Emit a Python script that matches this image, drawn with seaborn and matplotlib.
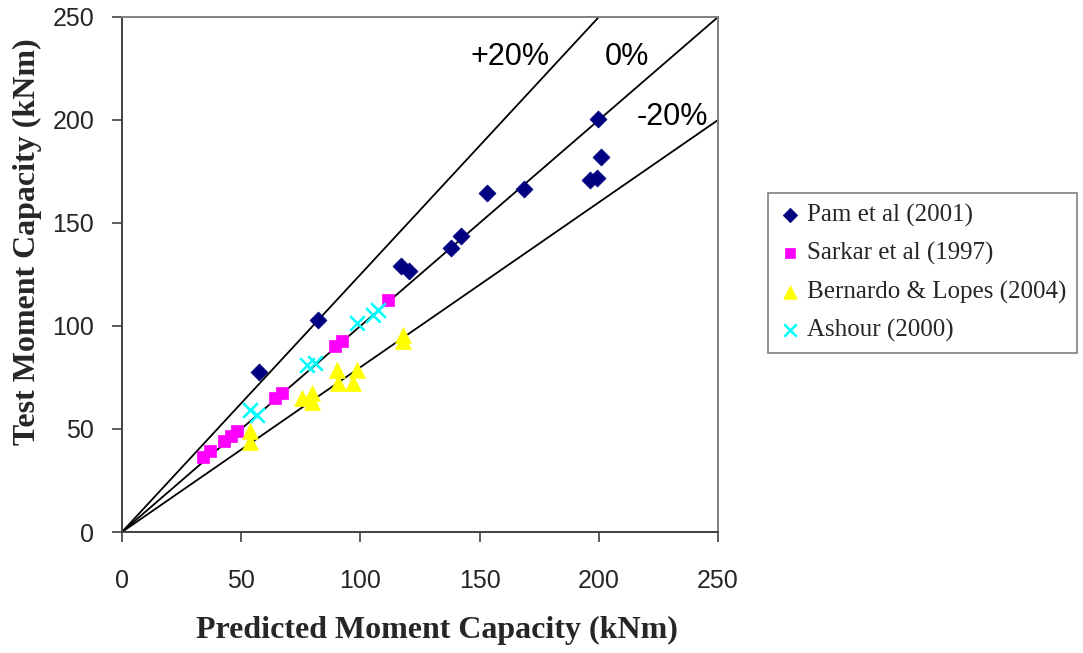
import matplotlib
matplotlib.use("Agg")
import matplotlib.pyplot as plt
import seaborn as sns
import numpy as np
import pandas as pd

# ---- data ----
pam_x = [57.5, 82.2, 117.0, 120.3, 137.9, 142.0, 153.0, 168.7, 196.3, 199.1, 200.8, 199.7]
pam_y = [77.7, 103.0, 129.0, 126.7, 138.0, 143.5, 164.6, 166.3, 170.9, 171.9, 181.9, 200.4]

sarkar_x = [34.0, 36.9, 42.8, 45.7, 48.2, 64.2, 67.1, 89.3, 92.3, 111.6]
sarkar_y = [36.4, 39.3, 44.2, 46.6, 49.0, 65.0, 67.5, 90.3, 92.7, 112.6]

bernardo_x = [53.7, 53.7, 75.4, 79.6, 79.6, 90.0, 90.8, 98.5, 97.0, 118.0, 118.0]
bernardo_y = [48.9, 43.8, 64.9, 67.3, 63.3, 78.6, 72.2, 78.6, 72.2, 95.6, 92.7]

ashour_x = [53.5, 56.5, 77.5, 81.0, 98.4, 105.4, 107.5]
ashour_y = [59.3, 57.0, 81.0, 81.9, 101.3, 105.3, 107.8]

series_names = ["Pam et al (2001)", "Sarkar et al (1997)",
                "Bernardo & Lopes (2004)", "Ashour (2000)"]

ref_factors = [1.25, 1.0, 0.8]
ref_labels = ["+20%", "0%", "-20%"]
ref_label_pos = [(162.8, 230.6), (212.0, 230.6), (230.7, 201.5)]

ticks = [0, 50, 100, 150, 200, 250]

# ---- figure ----
sns.set_theme(style="white")
plt.rcParams['font.family'] = ['Liberation Sans', 'DejaVu Sans']

fig = plt.figure(figsize=(10.83, 6.53), dpi=100)
ax = fig.add_axes([122/1083, 1-532/653, (718-122)/1083, (532-17)/653])

# reference lines
line_x = np.array([0.0, 250.0])
for f in ref_factors:
    sns.lineplot(x=line_x, y=line_x * f, ax=ax, color="black", linewidth=1.3,
                 legend=False, zorder=2)

styles = [
    dict(marker="D", color="#000080", s=75, edgecolor="#000080", linewidth=0.5),
    dict(marker="s", color="#FF00FF", s=80, edgecolor="#FF00FF", linewidth=0.5),
    dict(marker="^", color="#FFFF00", s=130, edgecolor="#FFFF00", linewidth=0.5),
    dict(marker="x", color="#00FFFF", s=110, linewidth=1.8),
]
data_x = [pam_x, sarkar_x, bernardo_x, ashour_x]
data_y = [pam_y, sarkar_y, bernardo_y, ashour_y]
for xs, ys, name, st in zip(data_x, data_y, series_names, styles):
    sns.scatterplot(x=xs, y=ys, ax=ax, label=name, zorder=3, **st)

for lab, (lx, ly) in zip(ref_labels, ref_label_pos):
    ax.text(lx, ly, lab, ha="center", va="center", fontsize=22, color="black")

ax.set_xlim(0, 250)
ax.set_ylim(0, 250)
ax.set_xticks(ticks)
ax.set_yticks(ticks)
ax.tick_params(axis="both", which="both", direction="out", length=7, width=1.2,
               color="#404040", labelsize=18, bottom=True, left=True)
ax.tick_params(axis="x", pad=20)
ax.tick_params(axis="y", pad=13)
for side in ["left", "bottom"]:
    ax.spines[side].set_color("#404040")
    ax.spines[side].set_linewidth(1.4)
for side in ["top", "right"]:
    ax.spines[side].set_visible(True)
    ax.spines[side].set_color("#808080")
    ax.spines[side].set_linewidth(1.4)

ax.set_xlabel("Predicted Moment Capacity (kNm)", fontsize=23, fontweight="bold",
              family=["Liberation Serif", "DejaVu Serif"])
ax.set_ylabel("Test Moment Capacity (kNm)", fontsize=23, fontweight="bold",
              family=["Liberation Serif", "DejaVu Serif"])
ax.xaxis.set_label_coords((437-122)/596, -(630-532)/515, transform=ax.transAxes)
ax.xaxis.label.set_va("center")
ax.yaxis.set_label_coords(-(122-27)/596, (532-242)/515, transform=ax.transAxes)
ax.yaxis.label.set_va("center")

leg = ax.legend(loc="upper left", bbox_to_anchor=(768/1083, 1-193/653),
                bbox_transform=fig.transFigure, frameon=True, fancybox=False,
                prop={"family": ["Liberation Serif", "DejaVu Serif"], "size": 18},
                handletextpad=0.2, handlelength=0.95, borderpad=0.42,
                labelspacing=0.62, borderaxespad=0, markerscale=0.85)
leg.get_frame().set_edgecolor("#606060")
leg.get_frame().set_linewidth(1.2)

fig.savefig("out.png", dpi=100)
